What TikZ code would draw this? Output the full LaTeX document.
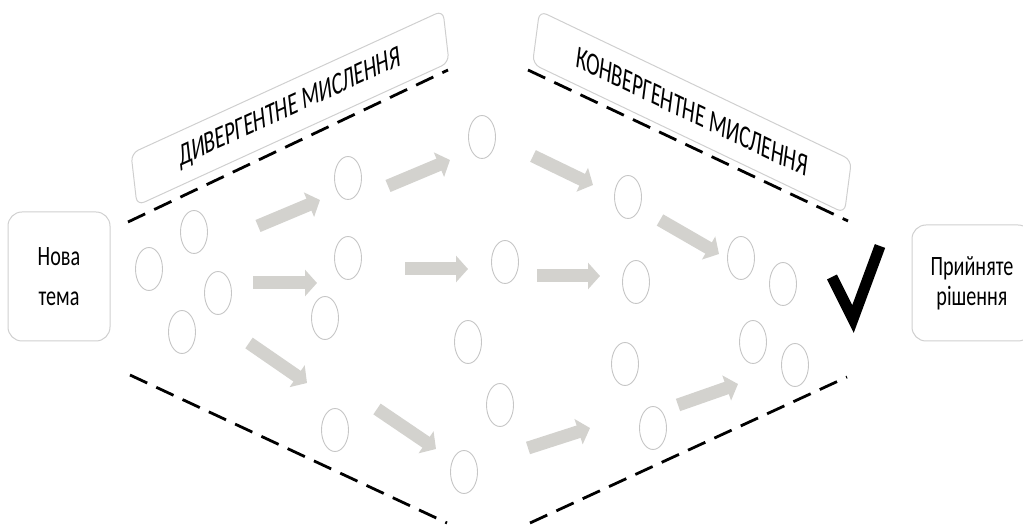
\documentclass[tikz,border=0pt]{standalone}
\usepackage{fontspec}
\newfontfamily\narrowsans[FakeStretch=0.72]{Carlito}
\newfontfamily\slimsans[FakeStretch=0.64]{Carlito}
\usepackage{tikz}
\usetikzlibrary{arrows.meta,shapes.geometric}
\definecolor{frame}{HTML}{CFCFCF}
\definecolor{flowgray}{HTML}{D3D2CE}
\definecolor{oval}{HTML}{C6C6C6}
\tikzset{
  idea/.style={draw=oval,line width=.9pt,ellipse,minimum width=27pt,minimum height=43pt,inner sep=0pt},
  topic/.style={draw=frame,line width=1pt,rounded corners=14pt,align=center,font=\narrowsans\fontsize{28}{36}\selectfont},
  mode/.style={draw=frame,line width=1pt,rounded corners=8pt,inner sep=0pt,font=\slimsans\fontsize{31}{34}\selectfont},
  push/.style={flowgray,line width=13pt,-{Triangle[length=12pt,width=26pt]}},
  bound/.style={dash pattern=on 19pt off 10pt,line width=2.8pt}
}
\begin{document}
\begin{tikzpicture}[x=1pt,y=1pt]
\useasboundingbox (0,0) rectangle (1023,527);
\clip (0,0) rectangle (1023,527);
% start and end
\node[topic,minimum width=102pt,minimum height=129pt] (nova) at (59,250.5) {Нова\\[4pt]тема};
\node[topic,minimum width=120pt,minimum height=116pt] (done) at (972,244) {Прийняте\\[-6pt]рішення};
% slanted headers
\node[mode,minimum width=312pt,minimum height=52pt,cm={1,0.458,-0.115,1,(0,0)}] (div) at (290,419) {ДИВЕРГЕНТНЕ МИСЛЕННЯ};
\node[mode,minimum width=312pt,minimum height=53pt,cm={1,-0.478,0.132,1,(0,0)}] (conv) at (692,415) {КОНВЕРГЕНТНЕ МИСЛЕННЯ};
% borders
\draw[bound] (128,305) -- (448,457);
\draw[bound] (528,457) -- (848,306);
\draw[bound] (130,152) -- (447,4);
\draw[bound] (530,4) -- (847,150);
% ideas
\node[idea] (i1) at (149,258) {};
\node[idea] (i2) at (194,295) {};
\node[idea] (i3) at (218,234) {};
\node[idea] (i4) at (182,195) {};
\node[idea] (i5) at (348,349) {};
\node[idea] (i6) at (348,269) {};
\node[idea] (i7) at (325,209) {};
\node[idea] (i8) at (482,390) {};
\node[idea] (i9) at (505,265) {};
\node[idea] (i10) at (468,185) {};
\node[idea] (i11) at (500,122) {};
\node[idea] (i12) at (335,97) {};
\node[idea] (i13) at (464,55) {};
\node[idea] (i14) at (628,330) {};
\node[idea] (i15) at (636,245) {};
\node[idea] (i16) at (625,163) {};
\node[idea] (i17) at (653,99) {};
\node[idea] (i18) at (741,269) {};
\node[idea] (i19) at (783,243) {};
\node[idea] (i20) at (753,185) {};
\node[idea] (i21) at (795,162) {};
% flow arrows
\draw[push] (258,301) -- (320,327);
\draw[push] (253,244) -- (317,244);
\draw[push] (249,184) -- (307,144);
\draw[push] (388,341) -- (450,367);
\draw[push] (405,258) -- (468,258);
\draw[push] (377,118) -- (436,78);
\draw[push] (533,371) -- (593,342);
\draw[push] (537,251) -- (600,251);
\draw[push] (528,79) -- (590,99);
\draw[push] (660,307) -- (719,273);
\draw[push] (678,122) -- (738,143);
% tick
\draw[line width=11pt,line join=miter] (832,250) -- (853,208) -- (880,281);
\end{tikzpicture}
\end{document}
